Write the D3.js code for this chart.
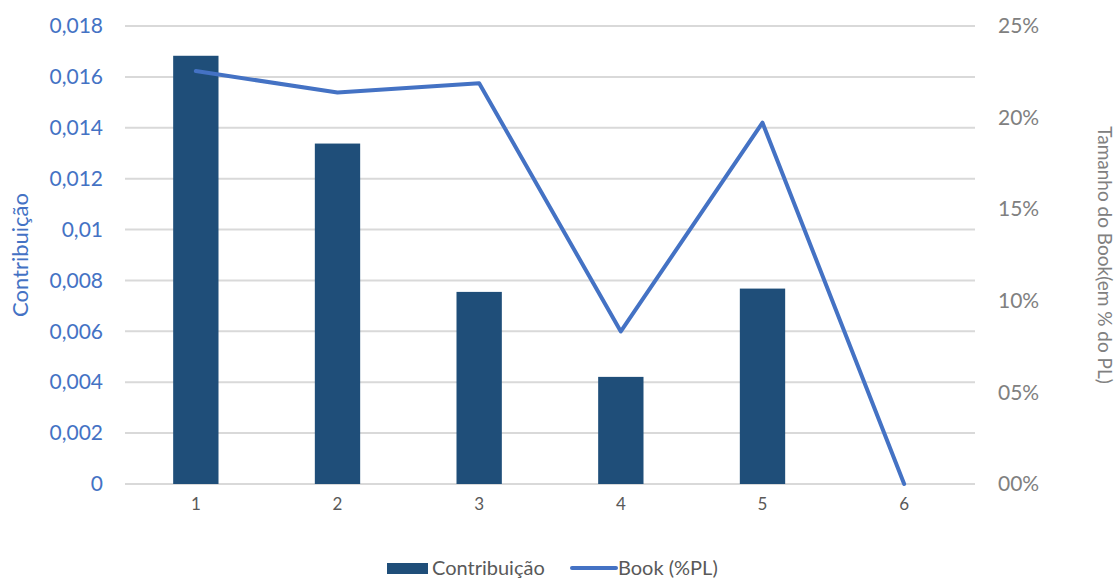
<!DOCTYPE html>
<html>
<head>
<meta charset="utf-8">
<script src="https://cdn.jsdelivr.net/npm/d3@7"></script>
<style>
  body { margin: 0; background: #fff; }
  svg text { font-family: Lato, "Noto Sans", sans-serif; }
</style>
</head>
<body>
<svg id="chart" width="1116" height="580"></svg>
<script>
// data
const categories = ['1', '2', '3', '4', '5', '6']
const contribuicao = [0.01683, 0.01338, 0.00755, 0.00421, 0.00768, 0]
const book = [0.2254, 0.2137, 0.2187, 0.0833, 0.1972, 0]
const leftTicks = [0, 0.002, 0.004, 0.006, 0.008, 0.01, 0.012, 0.014, 0.016, 0.018]
const rightTicks = [0, 0.05, 0.10, 0.15, 0.20, 0.25]

const plot = {left: 125, right: 975, top: 26, bottom: 484}
const barColor = '#1f4e79', lineColor = '#4472c4'

const svg = d3.select('#chart')

const x = d3.scaleBand().domain(categories).range([plot.left, plot.right]).paddingInner(0.68).paddingOuter(0.34)
const yL = d3.scaleLinear().domain([0, 0.018]).range([plot.bottom, plot.top])
const yR = d3.scaleLinear().domain([0, 0.25]).range([plot.bottom, plot.top])

/* gridlines */
svg.append('g').selectAll('line')
  .data(leftTicks)
  .enter().append('line')
  .attr('x1', plot.left).attr('x2', plot.right)
  .attr('y1', d => yL(d)).attr('y2', d => yL(d))
  .attr('stroke', '#d9d9d9').attr('stroke-width', 2)

/* left axis */
const leftAxis = d3.axisLeft(yL).tickValues(leftTicks).tickSize(0).tickPadding(22)
  .tickFormat(d => d === 0 ? '0' : String(+d.toFixed(3)).replace('.', ','))
svg.append('g').attr('transform', `translate(${plot.left},0)`).call(leftAxis)
  .call(g => g.select('.domain').remove())
  .selectAll('text').attr('fill', lineColor).style('font-size', '21px')

/* right axis */
const rightAxis = d3.axisRight(yR).tickValues(rightTicks).tickSize(0).tickPadding(23)
  .tickFormat(d => d3.format('02d')(Math.round(d * 100)) + '%')
svg.append('g').attr('transform', `translate(${plot.right},0)`).call(rightAxis)
  .call(g => g.select('.domain').remove())
  .selectAll('text').attr('fill', '#808080').style('font-size', '21px')

/* bars */
svg.append('g').selectAll('rect')
  .data(categories)
  .enter().append('rect')
  .attr('x', d => x(d))
  .attr('width', x.bandwidth())
  .attr('y', (d, i) => yL(contribuicao[i]))
  .attr('height', (d, i) => yL(0) - yL(contribuicao[i]))
  .attr('fill', barColor)

/* x axis */
const xAxis = d3.axisBottom(x).tickSize(0).tickPadding(14)
svg.append('g').attr('transform', `translate(0,${plot.bottom})`).call(xAxis)
  .call(g => g.select('.domain').remove())
  .selectAll('text').attr('fill', '#595959').style('font-size', '17px')

/* line */
const line = d3.line()
  .x((d, i) => x(categories[i]) + x.bandwidth() / 2)
  .y(d => yR(d))
svg.append('path')
  .datum(book)
  .attr('d', line)
  .attr('fill', 'none')
  .attr('stroke', lineColor)
  .attr('stroke-width', 4)
  .attr('stroke-linejoin', 'round')
  .attr('stroke-linecap', 'round')

/* axis titles */
svg.append('text')
  .attr('transform', `translate(28,${(plot.top + plot.bottom) / 2}) rotate(-90)`)
  .attr('text-anchor', 'middle')
  .attr('fill', lineColor)
  .style('font-size', '22px')
  .text('Contribuição')

svg.append('text')
  .attr('transform', `translate(1098,${(plot.top + plot.bottom) / 2}) rotate(90)`)
  .attr('text-anchor', 'middle')
  .attr('fill', '#808080')
  .style('font-size', '19px')
  .text('Tamanho do Book(em % do PL)')

/* legend */
const legend = svg.append('g').attr('transform', 'translate(0,568)')
legend.append('rect').attr('x', 387).attr('y', -5).attr('width', 41).attr('height', 11).attr('fill', barColor)
legend.append('text').attr('x', 432).attr('y', 7).attr('fill', '#595959').style('font-size', '20px').text('Contribuição')
legend.append('line').attr('x1', 572).attr('x2', 616).attr('y1', 0).attr('y2', 0)
  .attr('stroke', lineColor).attr('stroke-width', 4).attr('stroke-linecap', 'round')
legend.append('text').attr('x', 618).attr('y', 7).attr('fill', '#595959').style('font-size', '20px').text('Book (%PL)')
</script>
</body>
</html>
